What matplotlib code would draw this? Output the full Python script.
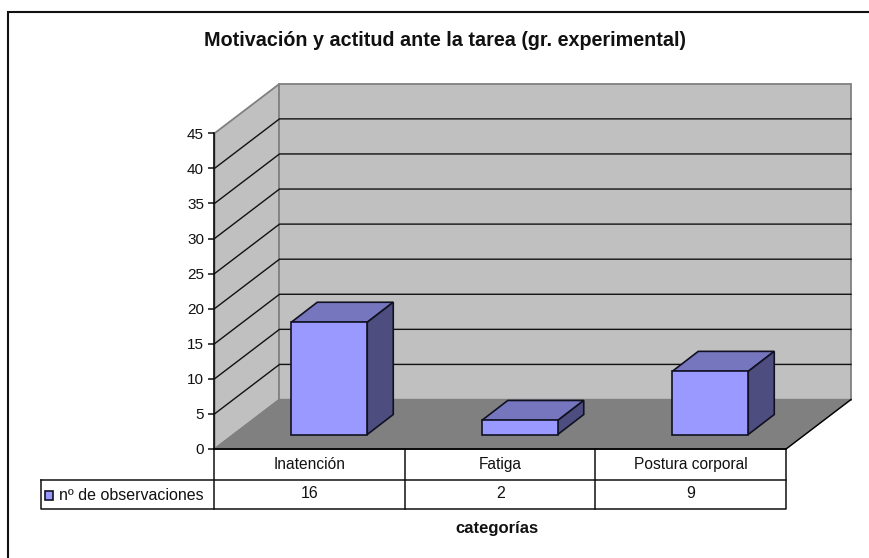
import matplotlib
matplotlib.use('Agg')
import matplotlib.pyplot as plt
from matplotlib.patches import Polygon, Rectangle

# Datos del grafico
categorias = ['Inatención', 'Fatiga', 'Postura corporal']
observaciones = [16, 2, 9]
ticks_y = [0, 5, 10, 15, 20, 25, 30, 35, 40, 45]
titulo = 'Motivación y actitud ante la tarea (gr. experimental)'
nombre_serie = 'nº de observaciones'
titulo_x = 'categorías'

plt.rcParams['font.family'] = ['Liberation Sans', 'DejaVu Sans']

W, H = 870, 558
fig = plt.figure(figsize=(W / 100, H / 100), dpi=100)

# Marco exterior (recortado: solo arriba e izquierda), en pixeles de la figura
fondo = fig.add_axes([0, 0, 1, 1])
fondo.set_xlim(0, W)
fondo.set_ylim(H, 0)
fondo.axis('off')
fondo.plot([8.5, 8.5, W], [H, 12, 12], color='#111111', lw=1.5, solid_joinstyle='miter')

# Plano frontal: x en categorias, y en valores
x0, x1, y0, y45 = 214.5, 786, 449, 133.3
ax = fig.add_axes([x0 / W, 1 - y0 / H, (x1 - x0) / W, (y0 - y45) / H])
ax.set_xlim(0, len(categorias))
ax.set_ylim(0, ticks_y[-1])
ax.patch.set_visible(False)
for s in ['top', 'right', 'bottom']:
    ax.spines[s].set_visible(False)
ax.spines['left'].set_linewidth(1.1)
ax.set_xticks([])
ax.set_yticks(ticks_y)
ax.tick_params(axis='y', length=4, width=1.1, labelsize=11, pad=3.5, colors='#111111')

px_x = len(categorias) / (x1 - x0)
px_y = ticks_y[-1] / (y0 - y45)
# Profundidad de la caja y de las barras
dx, dy = 65 * px_x, 49.5 * px_y
bx, by = 26 * px_x, 20 * px_y
margen_x, margen_y = 19.5 * px_x, 14.5 * px_y
ancho = 76 * px_x

xfin, ytop = len(categorias), ticks_y[-1]


def poli(ax, puntos, color, borde, lw=1.0, z=1):
    ax.add_patch(Polygon(puntos, closed=True, fc=color, ec=borde, lw=lw, zorder=z,
                         clip_on=False, joinstyle='miter'))


# Paredes y suelo
poli(ax, [(0, 0), (dx, dy), (dx, ytop + dy), (0, ytop)], '#c0c0c0', '#808080', 1.3, 1)
poli(ax, [(dx, dy), (xfin + dx, dy), (xfin + dx, ytop + dy), (dx, ytop + dy)], '#c0c0c0', '#808080', 1.3, 1)
poli(ax, [(0, 0), (xfin, 0), (xfin + dx, dy), (dx, dy)], '#808080', '#808080', 1.0, 2)
ax.plot([xfin, xfin + dx], [0, dy], color='black', lw=1.0, zorder=3, clip_on=False)
ax.plot([0, xfin], [0, 0], color='black', lw=1.3, zorder=3, clip_on=False)

# Lineas de division
for t in ticks_y[1:-1]:
    ax.plot([0, dx, xfin + dx], [t, t + dy, t + dy], color='#111111', lw=1.0, zorder=3, clip_on=False)

# Barras 3D
for i, v in enumerate(observaciones):
    xa = i + 0.5 - ancho / 2 + margen_x
    xb = xa + ancho
    ya, yb = margen_y, margen_y + v
    poli(ax, [(xa, yb), (xb, yb), (xb + bx, yb + by), (xa + bx, yb + by)], '#7676bf', '#111122', 1.2, 5)
    poli(ax, [(xb, ya), (xb + bx, ya + by), (xb + bx, yb + by), (xb, yb)], '#4d4d80', '#111122', 1.2, 5)
    poli(ax, [(xa, ya), (xb, ya), (xb, yb), (xa, yb)], '#9999ff', '#111122', 1.2, 6)

# Tabla de datos
fila1, fila2 = 479.5, 509
xleft = 40.7
fondo.plot([x0, x0, x1, x1], [y0, fila2, fila2, y0], color='#111111', lw=1.1, zorder=2)
fondo.plot([xleft, x1], [fila1, fila1], color='#111111', lw=1.1, zorder=2)
fondo.plot([xleft, xleft, x0], [fila1, fila2, fila2], color='#111111', lw=1.1, zorder=2)
col = (x1 - x0) / len(categorias)
for i, (c, v) in enumerate(zip(categorias, observaciones)):
    xc = x0 + col * (i + 0.5)
    if i > 0:
        fondo.plot([x0 + col * i] * 2, [y0, fila2], color='#111111', lw=1.1, zorder=2)
    fondo.text(xc, (y0 + fila1) / 2, c, ha='center', va='center', fontsize=11.2, color='#111111')
    fondo.text(xc, (fila1 + fila2) / 2 - 1, str(v), ha='center', va='center', fontsize=11.5, color='#111111')

fondo.add_patch(Rectangle((45, 491), 8.5, 8.5, fc='#9999ff', ec='#111122', lw=1.2))
fondo.text(59, 495.5, nombre_serie, ha='left', va='center', fontsize=11.5, color='#111111')

# Titulos
fondo.text(445, 40, titulo, ha='center', va='center', fontsize=14.2, fontweight='bold', color='#111111')
fondo.text(497, 529, titulo_x, ha='center', va='center', fontsize=12, fontweight='bold', color='#111111')

fig.savefig('out.png', dpi=100)
